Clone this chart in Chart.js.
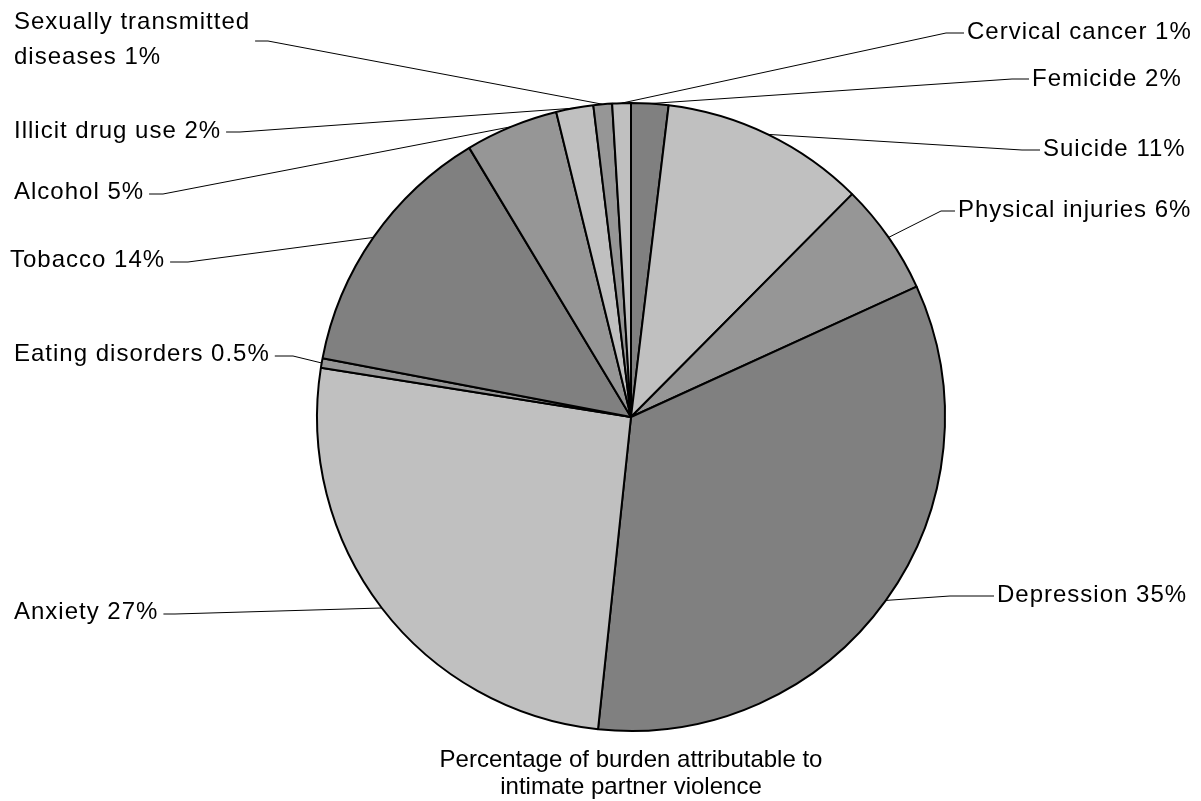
<!DOCTYPE html>
<html>
<head>
<meta charset="utf-8">
<script src="https://cdn.jsdelivr.net/npm/chart.js@4/dist/chart.umd.min.js"></script>
<style>
  html, body { margin: 0; padding: 0; background: #fff; overflow: hidden; }
  #wrap { width: 1201px; height: 801px; }
</style>
</head>
<body>
<div id="wrap"><canvas id="burden-chart"></canvas></div>
<script>
// data, clockwise from 12 o'clock
const categories = [
  "Femicide",
  "Suicide",
  "Physical injuries",
  "Depression",
  "Anxiety",
  "Eating disorders",
  "Tobacco",
  "Alcohol",
  "Illicit drug use",
  ["Sexually transmitted", "diseases"],
  "Cervical cancer",
];
const shares = [2, 11, 6, 35, 27, 0.5, 14, 5, 2, 1, 1];
const titleLines = ["Percentage of burden attributable to", "intimate partner violence"];

const sliceColors = [
  "#808080", "#c0c0c0", "#969696", "#808080", "#c0c0c0", "#969696",
  "#808080", "#969696", "#c0c0c0", "#969696", "#c0c0c0",
];

// label text anchor (left edge, middle) and the elbow of each leader line
const labelSpots = [
  { tx: 1032, ty: 79, ex: 1012, ey: 79 },
  { tx: 1043, ty: 149, ex: 1022, ey: 150 },
  { tx: 958, ty: 210, ex: 941, ey: 211 },
  { tx: 997, ty: 595, ex: 950, ey: 596 },
  { tx: 14, ty: 612, ex: 175, ey: 614 },
  { tx: 14, ty: 354, ex: 293, ey: 356 },
  { tx: 10, ty: 260, ex: 188, ey: 262 },
  { tx: 14, ty: 192, ex: 163, ey: 194 },
  { tx: 14, ty: 131, ex: 240, ey: 132 },
  { tx: 14, ty: 22, ex: 268, ey: 41 },
  { tx: 967, ty: 32, ex: 946, ey: 33 },
];

const FONT = "'Liberation Sans', Arial, sans-serif";
Chart.defaults.font.family = FONT;

const leaderLabels = {
  id: "leaderLabels",
  afterDatasetsDraw(chart) {
    const ctx = chart.ctx;
    const arcs = chart.getDatasetMeta(0).data;
    ctx.save();
    ctx.font = "24px " + FONT;
    ctx.letterSpacing = "1px";
    ctx.textBaseline = "middle";
    ctx.textAlign = "left";
    ctx.fillStyle = "#000";
    ctx.strokeStyle = "#000";
    ctx.lineWidth = 1;
    arcs.forEach((arc, i) => {
      const { x, y, startAngle, endAngle, outerRadius } = arc.getProps(
        ["x", "y", "startAngle", "endAngle", "outerRadius"], true);
      const mid = (startAngle + endAngle) / 2;
      const px = x + Math.cos(mid) * outerRadius;
      const py = y + Math.sin(mid) * outerRadius;
      const spot = labelSpots[i];
      const lines = [].concat(categories[i]);
      lines[lines.length - 1] += " " + shares[i] + "%";
      lines.forEach((t, k) => ctx.fillText(t, spot.tx, spot.ty + k * 35));

      // left side labels: the line leaves from the end of the text
      const hx = spot.ex > spot.tx
        ? spot.tx + ctx.measureText(lines[0]).width + 5
        : spot.tx - 3;
      ctx.beginPath();
      ctx.moveTo(px, py);
      ctx.lineTo(spot.ex, spot.ey);
      ctx.lineTo(hx, spot.ey);
      ctx.stroke();
    });
    ctx.restore();
  },
};

new Chart(document.getElementById("burden-chart"), {
  type: "pie",
  data: {
    labels: categories,
    datasets: [
      {
        data: shares,
        backgroundColor: sliceColors,
        borderColor: "#000",
        borderWidth: 2,
        radius: 314,
      },
    ],
  },
  options: {
    responsive: true,
    maintainAspectRatio: false,
    animation: false,
    layout: {
      padding: { left: 91, right: 30, top: 97, bottom: 0 },
    },
    plugins: {
      legend: { display: false },
      tooltip: { enabled: false },
      title: {
        display: true,
        position: "bottom",
        text: titleLines,
        color: "#000",
        font: { size: 24, weight: "normal", lineHeight: "27px" },
        padding: { top: 10, bottom: 0 },
      },
    },
  },
  plugins: [leaderLabels],
});
</script>
</body>
</html>
